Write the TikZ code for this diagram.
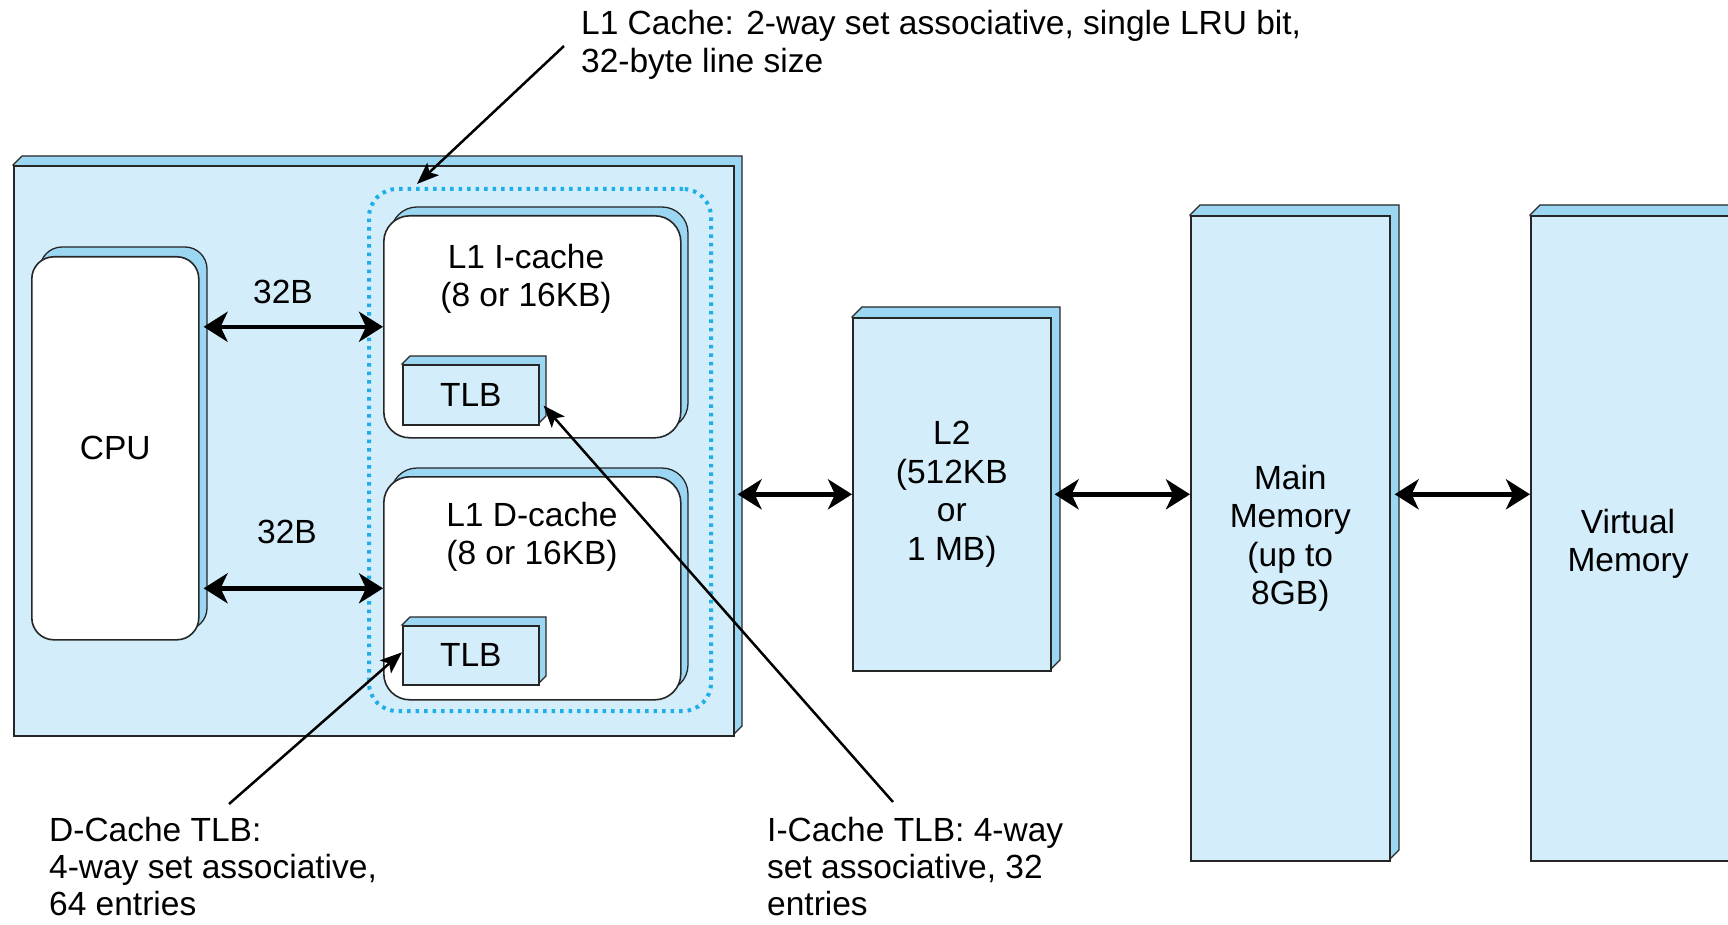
\documentclass[tikz,border=0pt]{standalone}
\usepackage{fontspec}
\setmainfont{Liberation Sans}
\usetikzlibrary{arrows.meta,calc}
\definecolor{face}{HTML}{D3EDFA}
\definecolor{side}{HTML}{9BD7F3}
\definecolor{dotc}{HTML}{1EAEE8}
\newcommand{\rectback}[5]{\filldraw[backface] (#1,#2) -- ({#1+#5},{#2-#5}) -- ({#3+#5},{#2-#5}) -- ({#3+#5},{#4-#5}) -- (#3,#4) -- cycle;}
\newcommand{\roundback}[6]{\filldraw[backface,rounded corners=#6] ({#1+#5},{#2-#5}) rectangle ({#3+#5},{#4-#5});}
\tikzset{
  every node/.style={font=\fontsize{33.5}{38.5}\selectfont, inner sep=0pt},
  backface/.style={fill=side, draw=black!85, line width=1.3pt},
  frontbox/.style={draw=black!85, fill=face, line width=1.6pt, anchor=north west, align=center},
  whitebox/.style={draw=black!85, fill=white, line width=1.6pt, anchor=north west, align=center},
  dbl/.style={{Stealth[length=24pt,width=30pt,inset=7pt]}-{Stealth[length=24pt,width=30pt,inset=7pt]}, line width=4.5pt},
  anno/.style={-{Stealth[length=22pt,width=17pt,inset=5pt]}, line width=2.5pt},
  txt/.style={align=left, anchor=north west}
}
\begin{document}
\begin{tikzpicture}[x=1pt,y=-1pt]
\useasboundingbox (0,0) rectangle (1728,925);
% big chip box
\rectback{13}{165}{733}{735}{9}
\node[frontbox, minimum width=720pt, minimum height=570pt] (big) at (13,165) {};
% CPU
\roundback{31}{256}{198}{639}{9}{22pt}
\node[whitebox, rounded corners=22pt, minimum width=167pt, minimum height=383pt] (cpu) at (31,256) {CPU};
% dotted L1 group
\node[draw=dotc, line width=4pt, dash pattern=on 3.5pt off 5pt, rounded corners=28pt, minimum width=342pt, minimum height=522pt, anchor=north west] (l1grp) at (367,187) {};
% L1 I-cache
\roundback{383}{215}{680}{437}{8}{26pt}
\node[whitebox, rounded corners=26pt, minimum width=297pt, minimum height=222pt] (l1i) at (383,215) {};
\node[align=center] (l1itext) at (526,279) {L1 I-cache\\(8 or 16KB)};
\rectback{402}{364}{538}{424}{8}
\node[frontbox, minimum width=136pt, minimum height=60pt] (tlb1) at (402,364) {TLB};
% L1 D-cache
\roundback{383}{476}{680}{699}{8}{26pt}
\node[whitebox, rounded corners=26pt, minimum width=297pt, minimum height=223pt] (l1d) at (383,476) {};
\node[align=center] (l1dtext) at (532,537) {L1 D-cache\\(8 or 16KB)};
\rectback{402}{625}{538}{684}{8}
\node[frontbox, minimum width=136pt, minimum height=59pt] (tlb2) at (402,625) {TLB};
% L2
\rectback{852}{317}{1050}{670}{10}
\node[frontbox, minimum width=198pt, minimum height=353pt] (l2) at (852,317) {L2\\(512KB\\or\\1 MB)};
% Main memory
\rectback{1190}{215}{1389}{860}{10}
\node[frontbox, minimum width=199pt, minimum height=645pt] (main) at (1190,215) {Main\\Memory\\(up to\\8GB)};
% Virtual memory
\rectback{1530}{215}{1740}{860}{10}
\node[frontbox, minimum width=210pt, minimum height=645pt] (virt) at (1530,215) {};
\node[align=center] (virttext) at (1628,544) {Virtual\\Memory};
% bus labels
\node (b1) at (283,292) {32B};
\node (b2) at (287,532) {32B};
% double arrows
\draw[dbl] ([xshift=4pt]cpu.east |- l1i.west) -- (l1i.west);
\draw[dbl] ([xshift=4pt]cpu.east |- l1d.west) -- (l1d.west);
\draw[dbl] ([xshift=3pt]big.east |- l2.west) -- (l2.west);
\draw[dbl] ([xshift=3pt]l2.east) -- (l2.east -| main.west);
\draw[dbl] ([xshift=4pt]main.east |- l2.east) -- (l2.east -| virt.west);
% annotations
\node[txt] (t1) at (581,10) {L1 Cache: 2-way set associative, single LRU bit,\\32-byte line size};
\node[txt, font=\fontsize{33.5}{37}\selectfont] (t2) at (49,817) {D-Cache TLB:\\4-way set associative,\\64 entries};
\node[txt, font=\fontsize{33.5}{37}\selectfont] (t3) at (767,817) {I-Cache TLB: 4-way\\set associative, 32\\entries};
\coordinate (s1) at (564,46);
\coordinate (s2) at (229,804);
\coordinate (s3) at (893,802);
\draw[anno] (s1) -- ([xshift=50pt,yshift=3pt]l1grp.north west);
\draw[anno] (s2) -- ([yshift=3pt]tlb2.west);
\draw[anno] (s3) -- ([xshift=4pt,yshift=20pt]tlb1.south east);
\end{tikzpicture}
\end{document}
